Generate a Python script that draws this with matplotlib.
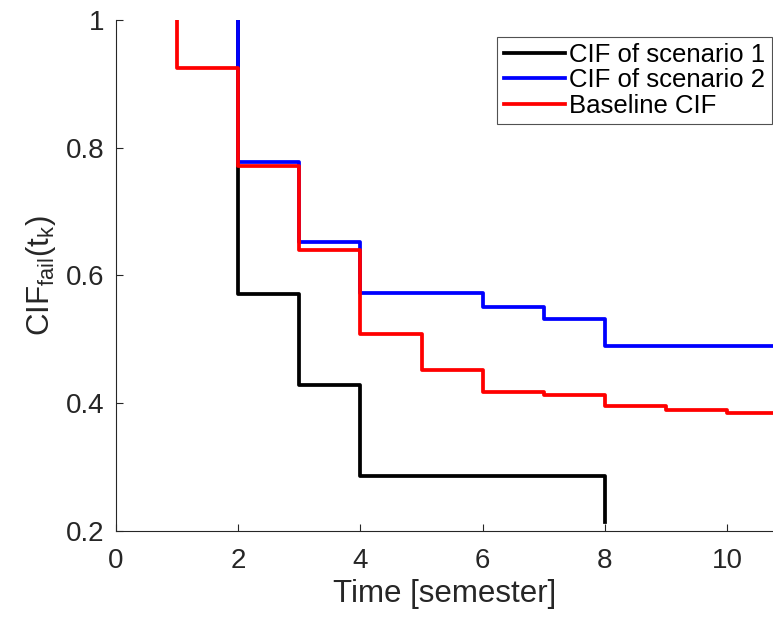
import matplotlib.pyplot as plt

plt.rcParams["font.family"] = ["Liberation Sans", "DejaVu Sans"]
plt.rcParams["mathtext.fontset"] = "custom"
plt.rcParams["mathtext.rm"] = "Liberation Sans"
plt.rcParams["mathtext.it"] = "Liberation Sans"

# cumulative incidence values per semester (step functions)
t_s1 = [2, 2, 3, 4, 8, 8]
cif_s1 = [1.0, 0.571, 0.428, 0.286, 0.286, 0.214]

t_s2 = [2, 2, 3, 4, 6, 7, 8, 11]
cif_s2 = [1.0, 0.777, 0.653, 0.572, 0.551, 0.531, 0.490, 0.490]

t_base = [1, 1, 2, 3, 4, 5, 6, 7, 8, 9, 10, 11]
cif_base = [1.0, 0.925, 0.772, 0.639, 0.508, 0.452, 0.418, 0.413, 0.396, 0.389, 0.385, 0.385]

axis_col = "#262626"

fig = plt.figure(figsize=(7.73, 6.21), dpi=100)
ax = fig.add_axes([0.150, 0.145, 0.85, 0.823])

ax.plot(t_s1, cif_s1, drawstyle="steps-post", color="black", lw=2.7, label="CIF of scenario 1")
ax.plot(t_s2, cif_s2, drawstyle="steps-post", color="blue", lw=2.7, label="CIF of scenario 2")
ax.plot(t_base, cif_base, drawstyle="steps-post", color="red", lw=2.7, label="Baseline CIF")

ax.set_xlim(0, 10.75)
ax.set_ylim(0.2, 1.0)
ax.set_xticks([0, 2, 4, 6, 8, 10])
ax.set_yticks([0.2, 0.4, 0.6, 0.8, 1.0])
ax.set_yticklabels(["0.2", "0.4", "0.6", "0.8", "1"])

ax.spines[["top", "right"]].set_visible(False)
for s in ["left", "bottom"]:
    ax.spines[s].set_color(axis_col)
    ax.spines[s].set_linewidth(0.8)
ax.tick_params(direction="in", length=5, width=0.8, color=axis_col,
               labelcolor=axis_col, labelsize=20)
ax.tick_params(axis="x", pad=12)
ax.tick_params(axis="y", pad=8)

ax.set_xlabel("Time [semester]", fontsize=22.5, color=axis_col, labelpad=4)
ax.set_ylabel(r"CIF$_{\mathrm{fail}}$(t$_{\mathrm{k}}$)", fontsize=22.5, color=axis_col, labelpad=6)

leg = ax.legend(loc="upper right", bbox_to_anchor=(0.998, 0.967), fontsize=18.5,
                frameon=True, fancybox=False, handlelength=2.4, handletextpad=0.15,
                borderpad=0.25, labelspacing=0.05, borderaxespad=0)
leg.get_frame().set_edgecolor(axis_col)
leg.get_frame().set_linewidth(0.8)

plt.savefig("out.png", dpi=100)
